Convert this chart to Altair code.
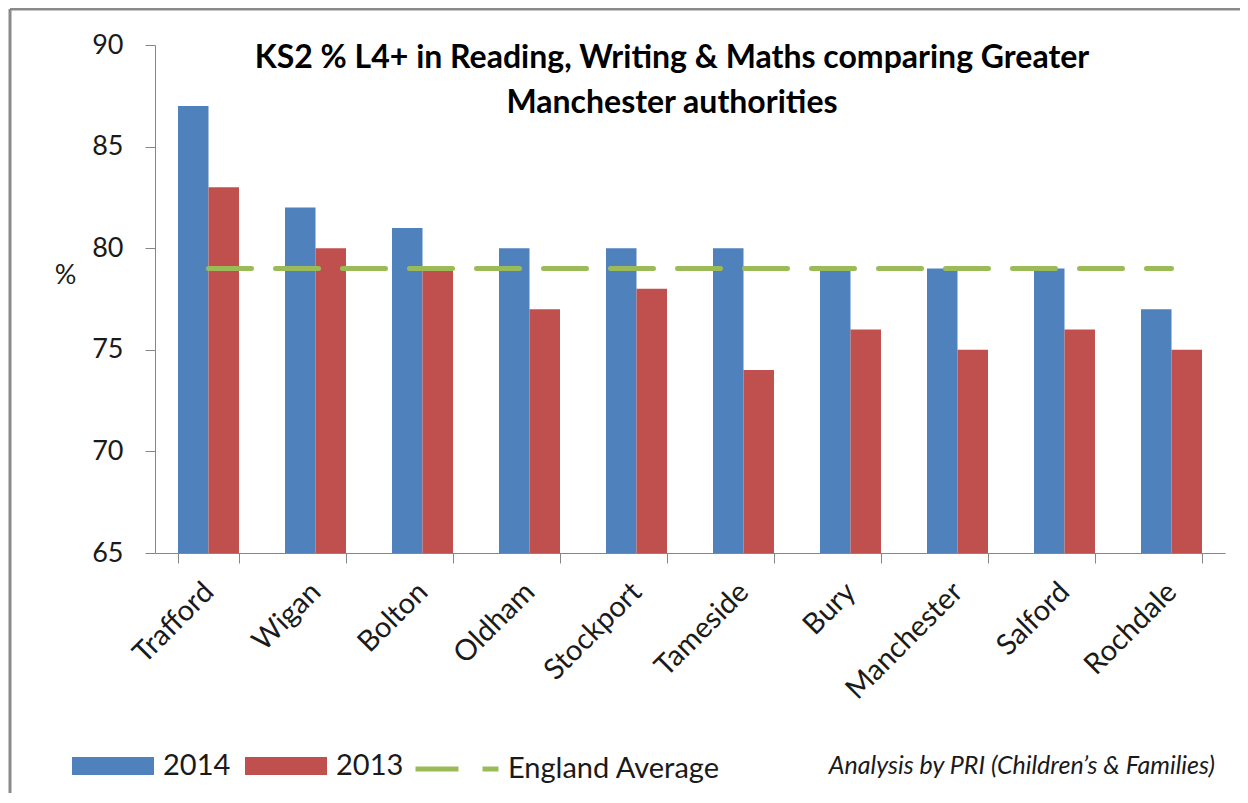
import altair as alt
import pandas as pd

authorities = ["Trafford", "Wigan", "Bolton", "Oldham", "Stockport",
               "Tameside", "Bury", "Manchester", "Salford", "Rochdale"]
values_2014 = [87, 82, 81, 80, 80, 80, 79, 79, 79, 77]
values_2013 = [83, 80, 79, 77, 78, 74, 76, 75, 76, 75]
england_average = [79, 79, 79, 79, 79, 79, 79, 79, 79, 79]
years = ["2014", "2013"]
bar_colors = ["#4F81BD", "#C0504D"]
line_color = "#9BBB59"
y_ticks = [65, 70, 75, 80, 85, 90]
title_text = "KS2 % L4+ in Reading, Writing & Maths comparing Greater\nManchester authorities"
footnote_text = "Analysis by PRI (Children\u2019s & Families)"

FONT = "Lato"
W, H = 1070, 508

rows = []
for a, v14, v13 in zip(authorities, values_2014, values_2013):
    rows.append({"authority": a, "year": "2014", "value": v14})
    rows.append({"authority": a, "year": "2013", "value": v13})
bars_df = pd.DataFrame(rows)
line_df = pd.DataFrame({"authority": authorities, "value": england_average,
                        "series": ["England Average"] * len(authorities)})

xscale = alt.Scale(domain=authorities, paddingInner=0.43, paddingOuter=0.215)
yscale = alt.Scale(domain=[65, 90], nice=False, zero=False, clamp=True)

x_axis = alt.Axis(title=None, labelAngle=-45, labelAlign="right", labelBaseline="middle",
                  labelFont=FONT, labelFontSize=29, labelColor="#1a1a1a",
                  tickBand="extent", tickSize=10, tickColor="#868686",
                  domainColor="#868686", labelPadding=24, labelLimit=0, grid=False)
y_axis = alt.Axis(title="%", titleAngle=0, titleX=-90, titleY=230, titleAlign="center",
                  titleBaseline="middle", titleFont=FONT, titleFontSize=27,
                  titleFontWeight="normal", titleColor="#1a1a1a",
                  values=y_ticks, labelFont=FONT, labelFontSize=27, labelColor="#1a1a1a",
                  tickSize=10, tickColor="#868686", domainColor="#868686",
                  labelPadding=22, grid=False)

bars = alt.Chart(bars_df).mark_bar().encode(
    x=alt.X("authority:N", scale=xscale, axis=x_axis, sort=authorities),
    xOffset=alt.XOffset("year:N", sort=years, scale=alt.Scale(domain=years, paddingInner=0, paddingOuter=0)),
    y=alt.Y("value:Q", scale=yscale, axis=y_axis),
    fill=alt.Fill("year:N", scale=alt.Scale(domain=years, range=bar_colors),
                  legend=alt.Legend(title=None, orient="none", direction="horizontal",
                                    legendX=-83, legendY=680,
                                    symbolType="M-1,-0.22H1V0.22H-1Z", symbolSize=6724,
                                    symbolStrokeWidth=0, symbolOpacity=1,
                                    labelFont=FONT, labelFontSize=29, labelColor="#1a1a1a",
                                    labelOffset=9, columnPadding=14, padding=0, labelLimit=0)),
)

line = alt.Chart(line_df).mark_line(strokeWidth=5, strokeDash=[43, 24], strokeCap="round").encode(
    x=alt.X("authority:N", scale=xscale, sort=authorities),
    y=alt.Y("value:Q", scale=yscale),
    stroke=alt.Stroke("series:N", scale=alt.Scale(domain=["England Average"], range=[line_color]),
                      legend=alt.Legend(title=None, orient="none", legendX=258, legendY=680,
                                        symbolType="stroke", symbolSize=6889,
                                        symbolStrokeWidth=5, symbolDash=[43, 24],
                                        labelFont=FONT, labelFontSize=29, labelColor="#1a1a1a",
                                        labelOffset=7, padding=0, labelLimit=0)),
)

title = alt.Chart(pd.DataFrame({"t": [title_text]})).mark_text(
    font=FONT, fontSize=32, fontWeight="bold", color="#000000", align="center",
    baseline="top", lineBreak="\n", lineHeight=45
).encode(text="t:N", x=alt.value(517), y=alt.value(-2))

footnote = alt.Chart(pd.DataFrame({"t": [footnote_text]})).mark_text(
    font=FONT, fontSize=25, fontStyle="italic", color="#1a1a1a", align="right",
    baseline="middle"
).encode(text="t:N", x=alt.value(1060), y=alt.value(721))

frame_top = alt.Chart(pd.DataFrame({"a": [0]})).mark_rule(color="#8a8a8a", strokeWidth=3).encode(
    x=alt.value(-145), x2=alt.value(1100), y=alt.value(-36))
frame_left = alt.Chart(pd.DataFrame({"a": [0]})).mark_rule(color="#8a8a8a", strokeWidth=3).encode(
    x=alt.value(-145), y=alt.value(-36), y2=alt.value(800))

chart = alt.layer(frame_top, frame_left, bars, line, title, footnote).resolve_scale(
    fill="independent", stroke="independent"
).properties(
    width=W, height=H,
    autosize=alt.AutoSizeParams(type="none"),
    padding={"left": 147, "top": 37, "right": 15, "bottom": 240},
    background="white",
).configure_view(stroke=None)

chart.save("out.html", embed_options={"renderer": "svg", "actions": False})
